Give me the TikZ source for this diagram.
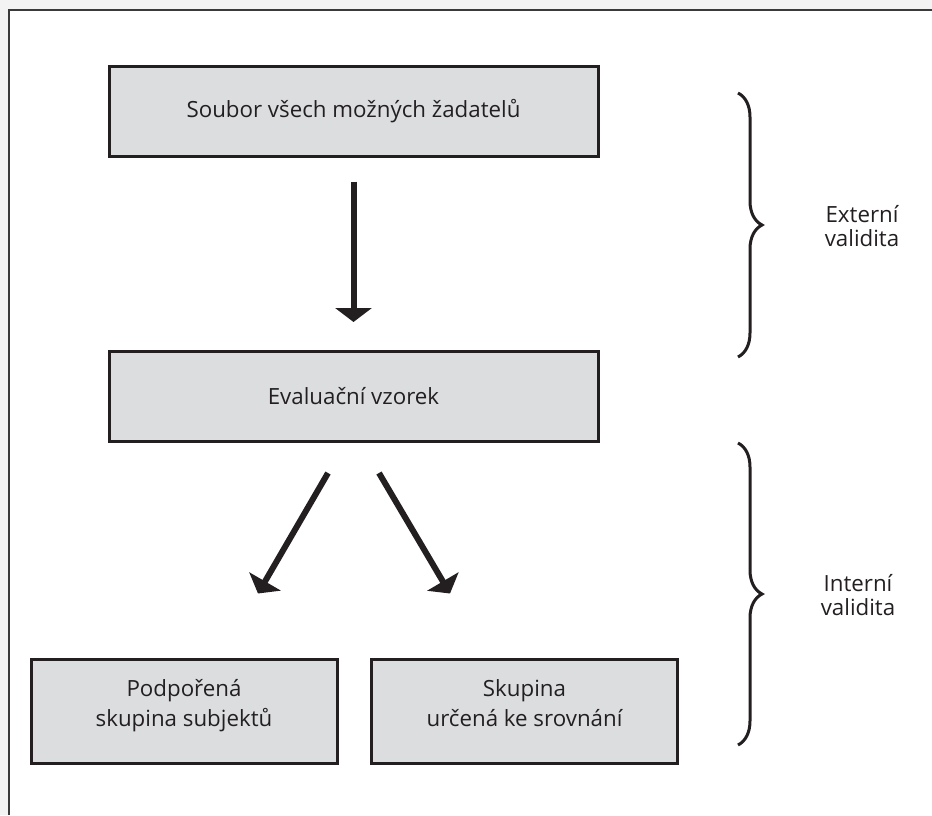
\documentclass[tikz,border=0pt]{standalone}
\usepackage{fontspec}
\setmainfont{Open Sans}
\usepackage{tikz}
\usetikzlibrary{arrows.meta,positioning,calc,decorations.pathreplacing}
\definecolor{boxgray}{HTML}{DCDDDF}
\definecolor{inkdark}{HTML}{231F20}
\definecolor{pagegray}{HTML}{F2F3F2}
\definecolor{framegray}{HTML}{3A3A3A}

\begin{document}
\begin{tikzpicture}[x=1pt, y=-1pt,
  stage/.style={draw=inkdark, line width=3pt, fill=boxgray, text=inkdark,
    minimum width=489pt, minimum height=90pt, align=center,
    font=\fontsize{22.3}{30}\selectfont},
  group/.style={stage, minimum width=306pt, minimum height=104pt, text depth=16pt},
  flow/.style={inkdark, line width=6pt, -{Triangle[width=36pt,length=14pt]}},
  span/.style={inkdark, line width=3pt, decorate, decoration={brace, amplitude=24pt}},
  tag/.style={text=inkdark, align=center, font=\fontsize{22.3}{23.5}\selectfont}]

\useasboundingbox (0,0) rectangle (932,815);

% page frame
\fill[pagegray] (0,0) rectangle (932,815);
\fill[white] (9,10) rectangle (932,815);
\draw[framegray, line width=2pt] (9,815) |- (932,10);

% boxes
\node[stage] (pool) at (353.5,111) {Soubor všech možných žadatelů};
\node[stage] (sample) at (353.5,396.5) {Evaluační vzorek};
\node[group] (treated) at (184,711) {Podpořená\\skupina subjektů};
\node[group] (control) at (524.5,711) {Skupina\\určená ke srovnání};

% arrows
\draw[flow] ([yshift=-24pt]pool.south) -- ([yshift=28pt]sample.north);
\draw[flow] ([xshift=-25.5pt,yshift=-30pt]sample.south) -- ([xshift=74pt,yshift=64pt]treated.north);
\draw[flow] ([xshift=25.5pt,yshift=-30pt]sample.south) -- ([xshift=-74.5pt,yshift=64pt]control.north);

% braces with labels
\draw[span] (738,93) -- (738,357);
\node[tag] (external) at (862,226) {Externí\\validita};
\draw[span] (738,443) -- (738,745);
\node[tag] (internal) at (858,595) {Interní\\validita};

\end{tikzpicture}
\end{document}
